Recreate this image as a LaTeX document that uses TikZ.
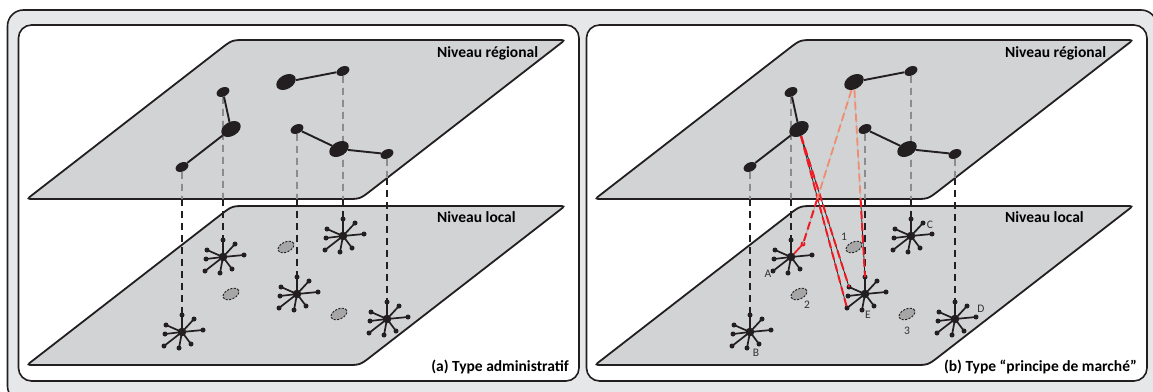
\documentclass[tikz,border=0pt]{standalone}
\usepackage{fontspec}
\setmainfont{Carlito}
\usetikzlibrary{calc,shapes.geometric}

\definecolor{ink}{RGB}{35,31,32}
\definecolor{planegray}{RGB}{209,211,212}
\definecolor{framegray}{RGB}{230,231,232}
\definecolor{linkred}{RGB}{237,28,36}
\definecolor{fadedred}{RGB}{242,140,112}

\tikzset{
  layerfill/.style={fill=planegray, draw=ink, line width=1.8},
  panelbox/.style={fill=white, draw=ink, line width=1.6, rounded corners=13},
  regsmall/.style={ellipse, fill=ink, inner sep=0, minimum width=13.5, minimum height=9, rotate=25},
  regbig/.style={ellipse, fill=ink, inner sep=0, minimum width=21, minimum height=14, rotate=30},
  ghost/.style={ellipse, fill=black!35, draw=ink, line width=.9, dash pattern=on 2.2pt off 1.3pt, inner sep=0, minimum width=17, minimum height=10, rotate=25},
  sitelink/.style={draw=ink, line width=1.9},
  spoke/.style={draw=ink, line width=1.7},
  hubne/.style={},
  vup/.style={draw=black!45, line width=1.6, dash pattern=on 7pt off 5pt},
  vdown/.style={draw=ink, line width=1.7, dash pattern=on 7pt off 5pt},
  redfull/.style={draw=ink, line width=.8, postaction={draw=linkred, line width=2, dash pattern=on 8pt off 4pt}},
  redlight/.style={draw=black!35, line width=.8, postaction={draw=linkred, line width=2, dash pattern=on 8pt off 4pt}},
  redfaint/.style={draw=black!25, line width=.7, postaction={draw=fadedred, line width=1.8, dash pattern=on 8pt off 4pt}},
  levelname/.style={font=\bfseries\fontsize{15.5}{17}\selectfont, inner sep=0},
  sitetag/.style={font=\fontsize{11.5}{13}\selectfont, text=black!80, inner sep=0},
  pics/hub/.style={code={
    \foreach \sx/\sy in {0/-17,21/-2,9/12,-3/16,-18/14,-17/2,-16/-7}{
      \draw[spoke] (0,0) -- (\sx,\sy);
      \fill[ink] (\sx,\sy) circle (2.5pt);
    }
    \draw[spoke,hubne] (0,0) -- (12,-13);
    \fill[ink,hubne] (12,-13) circle (2.5pt);
    \fill[ink] (0,0) circle (4.3pt);
    \coordinate (-n) at (0,-17);
    \coordinate (-ne) at (12,-13);
    \coordinate (-nw) at (-16,-7);
    \coordinate (-sw) at (-18,14);
  }},
}

% one layer (regional or local), shifted down by #1
\newcommand{\plane}[1]{%
\begin{scope}[yshift=-#1pt]
\filldraw[layerfill] ($(27,199)!7pt!(360,199)$) .. controls (27,199) .. ($(27,199)!7pt!(232,40)$)
  -- ($(232,40)!14pt!(27,199)$) .. controls (232,40) .. ($(232,40)!14pt!(565,40)$)
  -- ($(565,40)!7pt!(232,40)$) .. controls (565,40) .. ($(565,40)!7pt!(360,199)$)
  -- ($(360,199)!14pt!(565,40)$) .. controls (360,199) .. ($(360,199)!14pt!(27,199)$)
  -- cycle;
\end{scope}}

\begin{document}
\begin{tikzpicture}[x=1pt,y=-1pt]
\useasboundingbox (0,0) rectangle (1153,391);
\clip (0,0) rectangle (1153,391);

\filldraw[fill=framegray, draw=ink, line width=1.6, rounded corners=16] (7.5,10) rectangle (1157,402);

\foreach \dx/\p/\capt/\nec in {0/a/{(a) Type administratif}/ink, 568/b/{(b) Type “principe de marché”}/linkred}{
\begin{scope}[xshift=\dx]
\filldraw[panelbox] (18.5,25) rectangle (579,381);
\plane{166}
\plane{0}

% local level
\pic[hubne/.style={color=\nec}] (\p h1) at (223,257) {hub};
\pic (\p h2) at (182,332) {hub};
\pic (\p h3) at (343,236) {hub};
\pic (\p h4) at (297,294) {hub};
\pic (\p h5) at (387,319) {hub};
\node[ghost] (\p g1) at (231,294) {};
\node[ghost] (\p g2) at (286,247) {};
\node[ghost] (\p g3) at (339,314) {};

% regional level
\node[regsmall] (\p s1) at (223,92) {};
\node[regsmall] (\p s2) at (182,167) {};
\node[regsmall] (\p s3) at (343,71) {};
\node[regsmall] (\p s4) at (297,129) {};
\node[regsmall] (\p s5) at (387,154) {};

\coordinate (\p c1) at (223,199);
\coordinate (\p c2) at (182,199);
\coordinate (\p c3) at (343,199);
\coordinate (\p c4) at (297,199);
\coordinate (\p c5) at (387,178);
\foreach \i in {1,...,5}{
\draw[vup] (\p s\i) -- (\p c\i);
\draw[vdown] (\p c\i) -- (\p h\i-n);
}

\node[regbig] (\p b1) at (231,129) {};
\node[regbig] (\p b2) at (286,82) {};
\node[regbig] (\p b3) at (339,149) {};
\draw[sitelink] (\p s1) -- (\p b1) -- (\p s2);
\draw[sitelink] (\p b2) -- (\p s3);
\draw[sitelink] (\p s4) -- (\p b3) -- (\p s5);

\node[levelname, anchor=west] (\p reg) at (437,53) {Niveau régional};
\node[levelname, anchor=west] (\p loc) at (437,217) {Niveau local};
\node[levelname, anchor=east] (\p cap) at (569,367) {\capt};
\end{scope}
}

\node[sitetag] (tA) at (768,274) {A};
\node[sitetag] (tB) at (756,353) {B};
\node[sitetag] (tC) at (930,225) {C};
\node[sitetag] (tD) at (981,309) {D};
\node[sitetag] (tE) at (868,315) {E};
\node[sitetag] (t1) at (844,237) {1};
\node[sitetag] (t2) at (807,305) {2};
\node[sitetag] (t3) at (907,331) {3};

% market links
\coordinate (k3) at (817.2,199);
\coordinate (k4) at (860.6,199);
\draw[redfull] (bb1) -- (bh4-sw);
\draw[redfull] (bb1) -- (bh4-nw);
\draw[redfaint] (bb2) -- (k3);
\draw[redlight] (k3) -- (bh1-ne);
\draw[redfaint] (bb2) -- (k4);
\draw[redfull] (k4) -- (bh4-n);
\end{tikzpicture}
\end{document}
